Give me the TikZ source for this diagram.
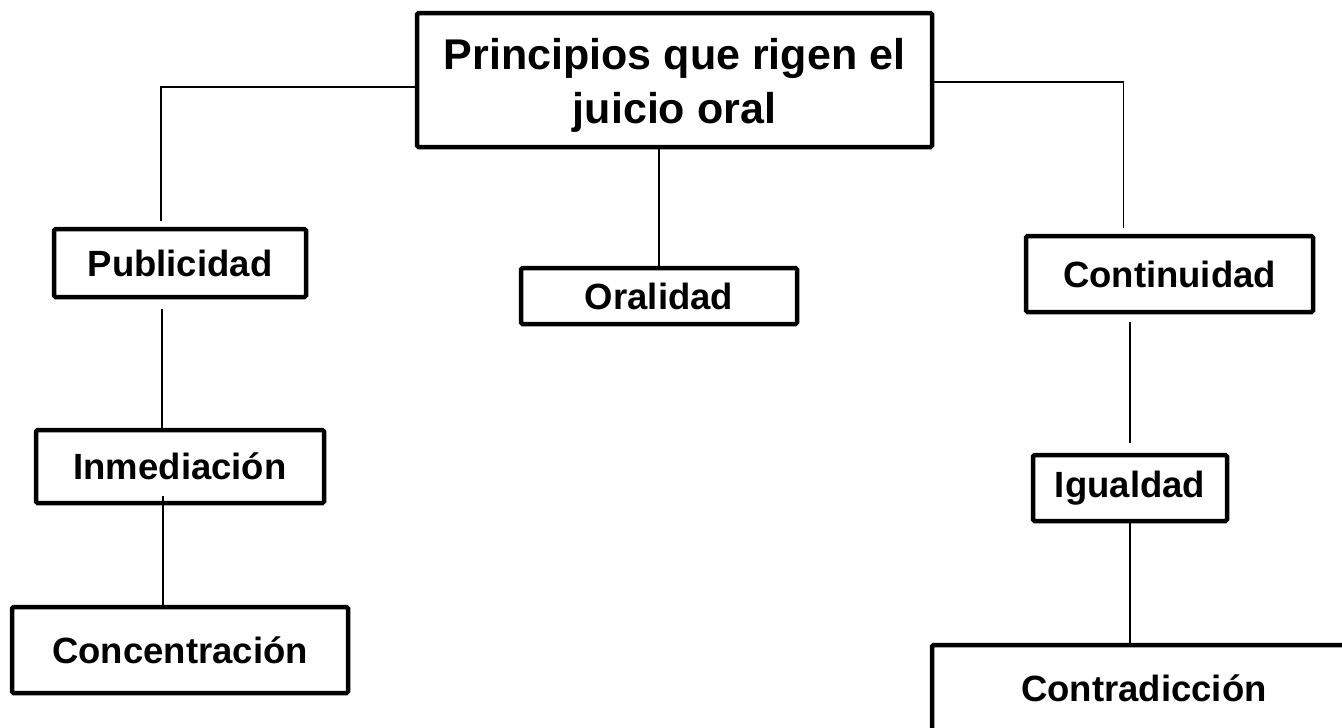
\documentclass[tikz,border=0pt]{standalone}
\usepackage{fontspec}
\setmainfont{Liberation Sans}
\usetikzlibrary{calc}
\tikzset{
  box/.style={draw=black, line width=4.5pt, rounded corners=1.5pt, fill=white, inner sep=0pt, anchor=center,
    font=\fontsize{36.5}{43}\selectfont\bfseries},
  conn/.style={draw=black, line width=1.6pt}
}
\begin{document}
\begin{tikzpicture}[x=1pt,y=-1pt]
\useasboundingbox (0,0) rectangle (1342,728);
\fill[white] (0,0) rectangle (1342,728);
% nodes
\node[box, minimum width=515pt, minimum height=134pt, align=center,
  font=\fontsize{43}{54}\selectfont\bfseries] (top) at (674.5,80) {\rule{0pt}{42pt}Principios que rigen el\\juicio oral};
\node[box, minimum width=252pt, minimum height=68pt] (pub) at (180,263) {Publicidad};
\node[box, minimum width=288pt, minimum height=73pt] (inm) at (180,466.5) {Inmediación};
\node[box, minimum width=336pt, minimum height=86pt] (con) at (180,650) {Concentración};
\node[box, minimum width=276pt, minimum height=56pt] (ora) at (659,296) {Oralidad};
\node[box, minimum width=287pt, minimum height=76pt] (cont) at (1169.5,274) {Continuidad};
\node[box, minimum width=194pt, minimum height=66pt] (igu) at (1130,488) {Igualdad};
\node[box, minimum width=424pt, minimum height=86pt] (contra) at (1144,688) {Contradicción};
% helper coordinates
\coordinate (lc) at (161,87);
\coordinate (rc) at (1122,82);
% connectors
\draw[conn] (top.west |- lc) -| ([xshift=-19pt,yshift=6pt]pub.north);
\draw[conn] ([xshift=-18pt,yshift=-10pt]pub.south) -- ([xshift=-18pt]inm.north);
\draw[conn] ([xshift=-17pt,yshift=9pt]inm.south) -- ([xshift=-17pt]con.north);
\draw[conn] (ora.north |- top.south) -- (ora.north);
\draw[conn] (top.east |- rc) -| ([xshift=-46pt,yshift=6pt]cont.north);
\draw[conn] ([yshift=-8pt]cont.south -| igu.north) -- ([yshift=10pt]igu.north);
\draw[conn] (igu.south) -- (igu.south |- contra.north);
\end{tikzpicture}
\end{document}
